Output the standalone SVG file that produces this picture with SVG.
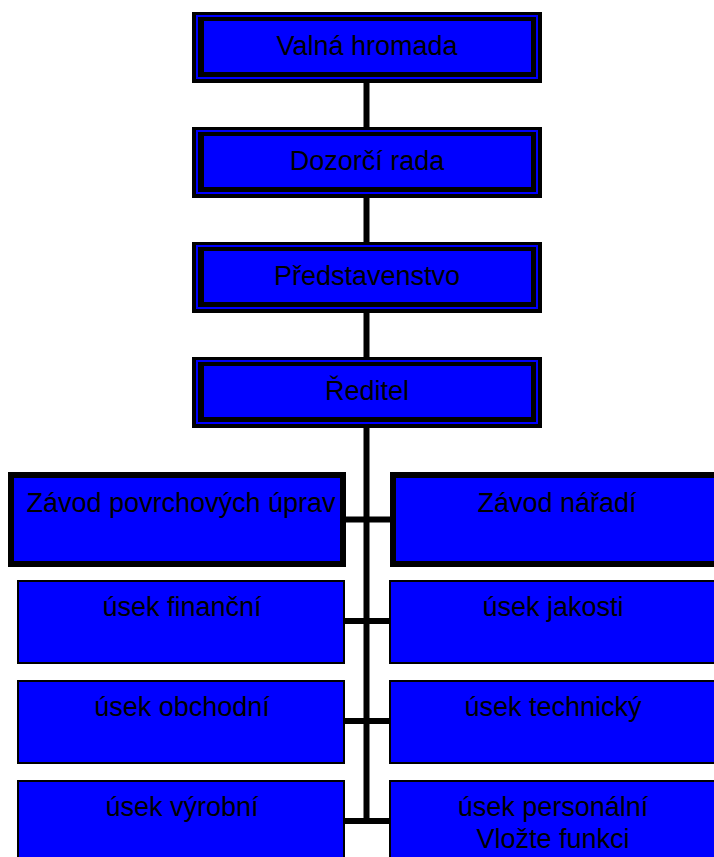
<svg xmlns="http://www.w3.org/2000/svg" width="714" height="857" viewBox="0 0 714 857">
<style>
.t{font-family:"Liberation Sans",Arial,sans-serif;font-size:27px;fill:#000;text-anchor:middle}
.blk{fill:#000}
.blu{fill:#0000ff}
.zav{fill:#0000ff;stroke:#000;stroke-width:6}
.sub{fill:#0000ff;stroke:#000;stroke-width:2}
.c{stroke:#000;stroke-width:6;fill:none}
</style>
<defs>
<g id="top">
<rect class="blk" x="192" y="12" width="350" height="71"/>
<rect class="blu" x="196" y="15" width="342" height="64"/>
<rect class="blk" x="198" y="17" width="338" height="60"/>
<rect class="blu" x="204" y="21" width="327" height="51"/>
</g>
</defs>
<g id="connectors">
<line class="c" x1="366.5" y1="80" x2="366.5" y2="824"/>
<line class="c" x1="344" y1="519.5" x2="391" y2="519.5"/>
<line class="c" x1="344" y1="621" x2="391" y2="621"/>
<line class="c" x1="344" y1="721" x2="391" y2="721"/>
<line class="c" x1="344" y1="821" x2="391" y2="821"/>
</g>
<g id="valna-hromada">
<use href="#top"/>
<text class="t" x="367" y="55">Valná hromada</text>
</g>
<g id="dozorci-rada" transform="translate(0,115)">
<use href="#top"/>
<text class="t" x="367" y="55">Dozorčí rada</text>
</g>
<g id="predstavenstvo" transform="translate(0,230)">
<use href="#top"/>
<text class="t" x="367" y="55">Představenstvo</text>
</g>
<g id="reditel" transform="translate(0,345)">
<use href="#top"/>
<text class="t" x="367" y="55">Ředitel</text>
</g>
<g id="zavod-povrchovych-uprav">
<rect class="zav" x="11" y="475" width="332" height="89"/>
<text class="t" x="181" y="512">Závod povrchových úprav</text>
</g>
<g id="zavod-naradi">
<rect class="zav" x="393" y="475" width="332" height="89"/>
<text class="t" x="557" y="512">Závod nářadí</text>
</g>
<g id="usek-financni">
<rect class="sub" x="18" y="581" width="326" height="82"/>
<text class="t" x="182" y="616">úsek finanční</text>
</g>
<g id="usek-jakosti">
<rect class="sub" x="390" y="581" width="326" height="82"/>
<text class="t" x="553" y="616">úsek jakosti</text>
</g>
<g id="usek-obchodni">
<rect class="sub" x="18" y="681" width="326" height="82"/>
<text class="t" x="182" y="716">úsek obchodní</text>
</g>
<g id="usek-technicky">
<rect class="sub" x="390" y="681" width="326" height="82"/>
<text class="t" x="553" y="716">úsek technický</text>
</g>
<g id="usek-vyrobni">
<rect class="sub" x="18" y="781" width="326" height="82"/>
<text class="t" x="182" y="816">úsek výrobní</text>
</g>
<g id="usek-personalni">
<rect class="sub" x="390" y="781" width="326" height="82"/>
<text class="t" x="553" y="816">úsek personální</text>
<text class="t" x="553" y="848">Vložte funkci</text>
</g>
</svg>
